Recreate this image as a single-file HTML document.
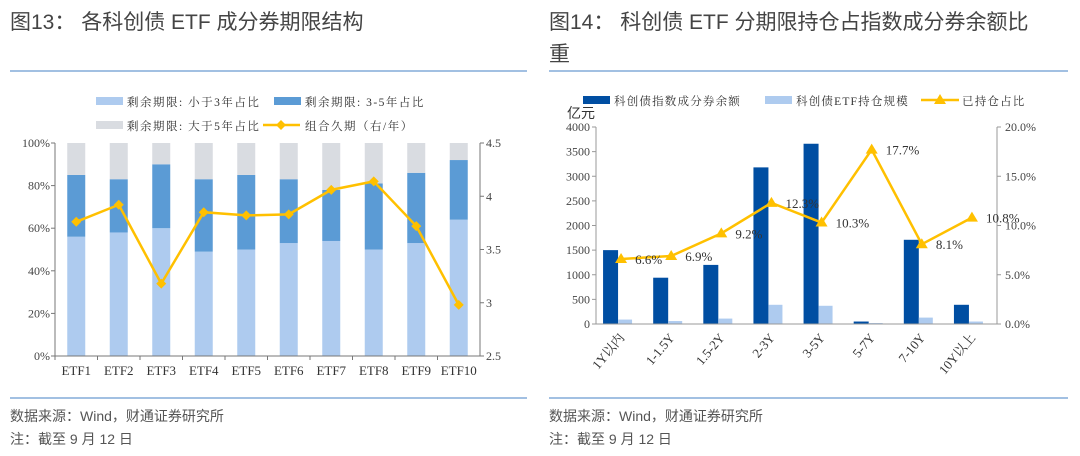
<!DOCTYPE html>
<html><head><meta charset="utf-8"><style>
body{margin:0;background:#fff;width:1080px;height:456px;overflow:hidden;font-family:"Liberation Sans","Noto Sans CJK SC",sans-serif}
svg{position:absolute;left:0;top:0}
</style></head><body>
<svg id="s" width="1080" height="456" xmlns="http://www.w3.org/2000/svg" font-family="Liberation Serif, Noto Serif CJK SC, serif">
<g>
<text x="10" y="29" font-size="21" fill="#444" font-family="Liberation Sans, Noto Sans CJK SC, sans-serif">图13：   各科创债 ETF 成分券期限结构</text>
<line x1="10" y1="71" x2="527" y2="71" stroke="#6a9bd1" stroke-width="1.2"/>
<line x1="10" y1="398" x2="527" y2="398" stroke="#6a9bd1" stroke-width="1.2"/>
<text x="10" y="421" font-size="14" fill="#555" font-family="Liberation Sans, Noto Sans CJK SC, sans-serif">数据来源：Wind，财通证券研究所</text>
<text x="10" y="444" font-size="14" fill="#555" font-family="Liberation Sans, Noto Sans CJK SC, sans-serif">注：截至 9 月 12 日</text>
</g>
<g>
<text x="549" y="29" font-size="21" fill="#444" font-family="Liberation Sans, Noto Sans CJK SC, sans-serif">图14：   科创债 ETF 分期限持仓占指数成分券余额比</text>
<text x="549" y="61" font-size="21" fill="#444" font-family="Liberation Sans, Noto Sans CJK SC, sans-serif">重</text>
<line x1="549" y1="71" x2="1068" y2="71" stroke="#6a9bd1" stroke-width="1.2"/>
<line x1="549" y1="398" x2="1068" y2="398" stroke="#6a9bd1" stroke-width="1.2"/>
<text x="549" y="421" font-size="14" fill="#555" font-family="Liberation Sans, Noto Sans CJK SC, sans-serif">数据来源：Wind，财通证券研究所</text>
<text x="549" y="444" font-size="14" fill="#555" font-family="Liberation Sans, Noto Sans CJK SC, sans-serif">注：截至 9 月 12 日</text>
</g>
<g id="c1"></g>
<g id="c2"></g>
</svg>
<script>
const etfCats=["ETF1","ETF2","ETF3","ETF4","ETF5","ETF6","ETF7","ETF8","ETF9","ETF10"];
const shortShare=[56,58,60,49,50,53,54,50,53,64];
const midShare=[29,25,30,34,35,30,24,31,33,28];
const longShare=[15,17,10,17,15,17,22,19,14,8];
const duration=[3.76,3.92,3.18,3.85,3.82,3.83,4.06,4.14,3.72,2.98];
const leftTicks=["0%","20%","40%","60%","80%","100%"];
const rightTicks=["2.5","3","3.5","4","4.5"];

const termCats=["1Y以内","1-1.5Y","1.5-2Y","2-3Y","3-5Y","5-7Y","7-10Y","10Y以上"];
const indexBalance=[1500,940,1200,3180,3660,50,1710,390];
const etfHolding=[90,60,110,390,370,20,130,50];
const heldPct=[6.6,6.9,9.2,12.3,10.3,17.7,8.1,10.8];
const balTicks=[0,500,1000,1500,2000,2500,3000,3500,4000];
const pctTicks=[0,5,10,15,20];

const NS="http://www.w3.org/2000/svg";
function el(p,t,a){const e=document.createElementNS(NS,t);for(const k in a)e.setAttribute(k,a[k]);p.appendChild(e);return e;}
function tx(p,x,y,s,a){const e=el(p,'text',Object.assign({x:x,y:y,'font-size':12,fill:'#333'},a||{}));e.textContent=s;return e;}

// Chart 13
(function(){
const g=document.getElementById('c1');
const X0=55,X1=480,Y0=356,Y1=143;
const y=v=>Y0-(v/100)*(Y0-Y1);
const y2=v=>Y0-((v-2.5)/2)*(Y0-Y1);
const bw=(X1-X0)/etfCats.length;
const cx=i=>X0+bw*(i+0.5);
leftTicks.forEach((t,i)=>{const l=tx(g,X0-5,y(i*20)+4,t,{'text-anchor':'end',fill:'#444'});el(g,'line',{x1:X0-4,x2:X0,y1:y(i*20),y2:y(i*20),stroke:'#777'});});
rightTicks.forEach(t=>{const v=parseFloat(t);const l=tx(g,X1+6,y2(v)+4,t,{fill:'#444'});el(g,'line',{x1:X1,x2:X1+4,y1:y2(v),y2:y2(v),stroke:'#777'});});
etfCats.forEach((c,i)=>{
 const x=cx(i)-9;let b=0;
 [[shortShare,'#aecbef'],[midShare,'#5b9bd5'],[longShare,'#d9dce1']].forEach(([arr,col])=>{
  const r=el(g,'rect',{x:x,y:y(b+arr[i]),width:18,height:y(b)-y(b+arr[i]),fill:col});
  
  
  b+=arr[i];});
 const l=tx(g,cx(i),375,c,{'text-anchor':'middle',fill:'#333','font-size':13});
 
 el(g,'line',{x1:X0+bw*i,x2:X0+bw*i,y1:Y0,y2:Y0+4,stroke:'#777'});
});
el(g,'line',{x1:X0,x2:X0,y1:Y1,y2:Y0,stroke:'#777'});
el(g,'line',{x1:X1,x2:X1,y1:Y1,y2:Y0,stroke:'#777'});
el(g,'line',{x1:X0,x2:X1,y1:Y0,y2:Y0,stroke:'#777'});
const ln=el(g,'polyline',{points:duration.map((v,i)=>cx(i)+','+y2(v)).join(' '),fill:'none',stroke:'#ffc000','stroke-width':2.5});

duration.forEach((v,i)=>{const d=el(g,'path',{d:`M${cx(i)},${y2(v)-5}l5,5l-5,5l-5,-5z`,fill:'#ffc000'});});
const lg=el(g,'g',{});
const ls={'font-size':11.5,'letter-spacing':1.5};
el(lg,'rect',{x:96,y:97,width:27,height:8,fill:'#aecbef'});tx(lg,127,106,'剩余期限: 小于3年占比',ls);
el(lg,'rect',{x:274,y:97,width:27,height:8,fill:'#5b9bd5'});tx(lg,305,106,'剩余期限: 3-5年占比',ls);
el(lg,'rect',{x:96,y:121,width:27,height:8,fill:'#d9dce1'});tx(lg,127,130,'剩余期限: 大于5年占比',ls);
el(lg,'line',{x1:263,x2:300,y1:125,y2:125,stroke:'#ffc000','stroke-width':2.5});
el(lg,'path',{d:'M281,120l5,5l-5,5l-5,-5z',fill:'#ffc000'});
tx(lg,305,130,'组合久期（右/年）',ls);
})();

// Chart 14
(function(){
const g=document.getElementById('c2');
const X0=596,X1=997,Y0=324,Y1=127;
const y=v=>Y0-(v/4000)*(Y0-Y1);
const y2=v=>Y0-(v/20)*(Y0-Y1);
const bw=(X1-X0)/termCats.length;
const cx=i=>X0+bw*(i+0.5);
balTicks.forEach(v=>{const l=tx(g,X0-6,y(v)+4,String(v),{'text-anchor':'end',fill:'#444'});el(g,'line',{x1:X0-4,x2:X0,y1:y(v),y2:y(v),stroke:'#999'});});
pctTicks.forEach(v=>{const l=tx(g,X1+8,y2(v)+4,v.toFixed(1)+'%',{fill:'#444'});el(g,'line',{x1:X1,x2:X1+4,y1:y2(v),y2:y2(v),stroke:'#999'});});
tx(g,567,118,'亿元',{'font-size':14,fill:'#333','font-family':'Liberation Sans, Noto Sans CJK SC, sans-serif'});
termCats.forEach((c,i)=>{
 const b1=el(g,'rect',{x:cx(i)-18,y:y(indexBalance[i]),width:15,height:Y0-y(indexBalance[i]),fill:'#004ea2'});
 
 const b2=el(g,'rect',{x:cx(i)-3,y:y(etfHolding[i]),width:14,height:Y0-y(etfHolding[i]),fill:'#aecbef'});
 
 const l=tx(g,cx(i)+4,338,c,{'text-anchor':'end','font-size':13,transform:`rotate(-50 ${cx(i)+4} 338)`});
 
});
el(g,'line',{x1:X0,x2:X0,y1:Y1,y2:Y0,stroke:'#999'});
el(g,'line',{x1:X1,x2:X1,y1:Y1,y2:Y0,stroke:'#999'});
el(g,'line',{x1:X0,x2:X1,y1:Y0,y2:Y0,stroke:'#999'});
const ln=el(g,'polyline',{points:heldPct.map((v,i)=>cx(i)+','+y2(v)).join(' '),fill:'none',stroke:'#ffc000','stroke-width':2.5});

heldPct.forEach((v,i)=>{
 const p=el(g,'path',{d:`M${cx(i)},${y2(v)-6}l6,10h-12z`,fill:'#ffc000'});
 
 const l=tx(g,cx(i)+14,y2(v)+5,v.toFixed(1)+'%',{'font-size':13});
 
});
const lg=el(g,'g',{});
const ls={'font-size':11.5,'letter-spacing':1.2};
el(lg,'rect',{x:583,y:96,width:27,height:8,fill:'#004ea2'});tx(lg,614,105,'科创债指数成分券余额',ls);
el(lg,'rect',{x:765,y:96,width:27,height:8,fill:'#aecbef'});tx(lg,796,105,'科创债ETF持仓规模',ls);
el(lg,'line',{x1:921,x2:959,y1:100,y2:100,stroke:'#ffc000','stroke-width':2.5});
el(lg,'path',{d:'M940,94l6,10h-12z',fill:'#ffc000'});
tx(lg,962,105,'已持仓占比',ls);
})();
</script>
</body></html>
